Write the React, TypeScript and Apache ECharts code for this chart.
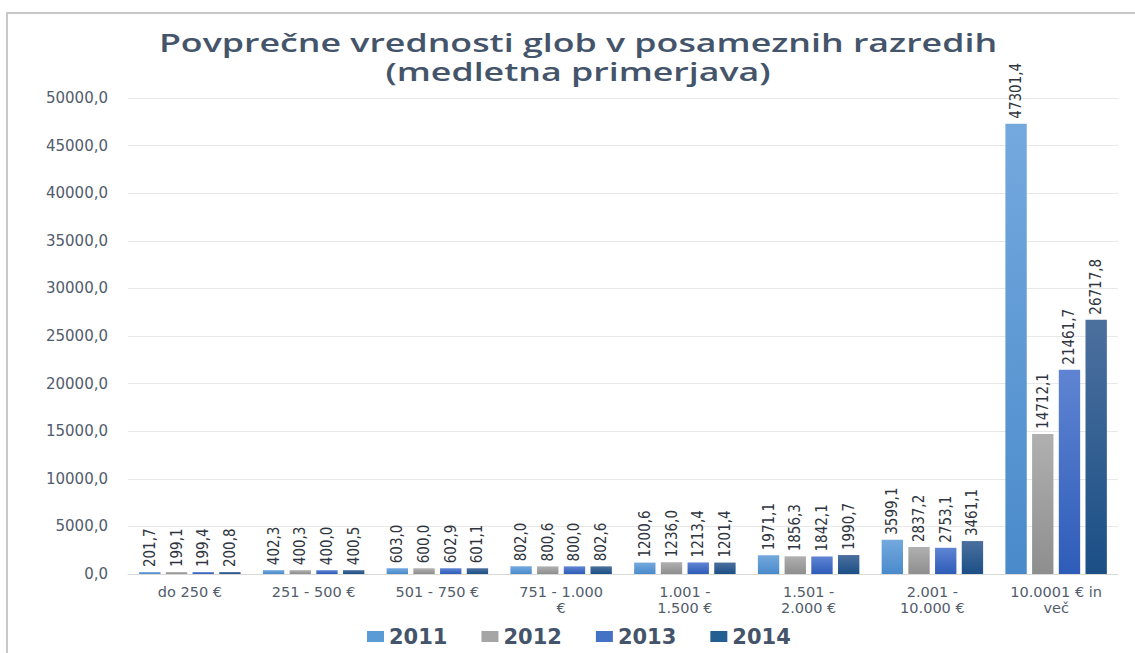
import React, { useEffect, useRef } from "react";
import * as echarts from "echarts";

const titleLines = [
  "Povprečne vrednosti glob v posameznih razredih",
  "(medletna primerjava)",
];
const categories = [
  "do 250 €",
  "251 - 500 €",
  "501 - 750 €",
  "751 - 1.000\n€",
  "1.001 -\n1.500 €",
  "1.501 -\n2.000 €",
  "2.001 -\n10.000 €",
  "10.0001 € in\nveč",
];
const years = ["2011", "2012", "2013", "2014"];
const v2011 = [201.7, 402.3, 603.0, 802.0, 1200.6, 1971.1, 3599.1, 47301.4];
const v2012 = [199.1, 400.3, 600.0, 800.6, 1236.0, 1856.3, 2837.2, 14712.1];
const v2013 = [199.4, 400.0, 602.9, 800.0, 1213.4, 1842.1, 2753.1, 21461.7];
const v2014 = [200.8, 400.5, 601.1, 802.6, 1201.4, 1990.7, 3461.1, 26717.8];
const yTicks = { min: 0, max: 50000, interval: 5000 };

const seriesValues = [v2011, v2012, v2013, v2014];
const gradients = [
  ["#74a9de", "#4a8acb"],
  ["#b0b0b0", "#8e8e8e"],
  ["#5f84d3", "#2e5cb8"],
  ["#4c709e", "#1b4f86"],
];
const legendColors = ["#5b9bd5", "#a5a5a5", "#4472c4", "#255e91"];

const fmt = (v: number) => v.toFixed(1).replace(".", ",");

export default function App() {
  const ref = useRef<HTMLDivElement>(null);
  useEffect(() => {
    if (!ref.current) return;
    const chart = echarts.init(ref.current, undefined, { renderer: "svg" });
    chart.setOption({
      animation: false,
      backgroundColor: "#ffffff",
      color: legendColors,
      graphic: [
        {
          type: "rect",
          shape: { x: 7, y: 13, width: 1140, height: 660 },
          style: { fill: "none", stroke: "#c8c8c8", lineWidth: 2 },
          silent: true,
        },
        ...titleLines.map((t, i) => ({
          type: "text",
          x: 578,
          y: 42 + i * 29,
          scaleX: 1.43,
          silent: true,
          style: {
            text: t,
            align: "center",
            verticalAlign: "middle",
            fontFamily: "'Open Sans', sans-serif",
            fontWeight: 600,
            fontSize: 25,
            fill: "#44546a",
          },
        })),
      ],
      legend: {
        bottom: 1,
        left: 362,
        itemWidth: 17,
        itemHeight: 11,
        itemGap: 34,
        icon: "rect",
        data: years.map((y, i) => ({ name: y, itemStyle: { color: legendColors[i] } })),
        textStyle: {
          fontFamily: "'DejaVu Sans', sans-serif",
          fontWeight: "bold",
          fontSize: 21,
          color: "#44546a",
        },
      },
      grid: { left: 128, right: 17, top: 98, bottom: 79 },
      xAxis: {
        type: "category",
        data: categories,
        axisLine: { lineStyle: { color: "#d9d9d9" } },
        axisTick: { show: false },
        axisLabel: {
          interval: 0,
          fontFamily: "'DejaVu Sans', sans-serif",
          fontSize: 14.5,
          color: "#525c6b",
          lineHeight: 16,
          margin: 10,
        },
      },
      yAxis: {
        type: "value",
        min: yTicks.min,
        max: yTicks.max,
        interval: yTicks.interval,
        axisLine: { show: false },
        axisTick: { show: false },
        splitLine: { lineStyle: { color: "#e8e8e8" } },
        axisLabel: {
          formatter: (v: number) => fmt(v),
          fontFamily: "'DejaVu Sans', sans-serif",
          fontSize: 15,
          color: "#525c6b",
          margin: 20,
        },
      },
      series: years.map((y, i) => ({
        name: y,
        type: "bar",
        data: seriesValues[i],
        barGap: "25%",
        barCategoryGap: "18%",
        itemStyle: {
          color: new echarts.graphic.LinearGradient(0, 0, 0, 1, [
            { offset: 0, color: gradients[i][0] },
            { offset: 1, color: gradients[i][1] },
          ]),
        },
        label: {
          show: true,
          position: "top",
          rotate: 90,
          align: "left",
          verticalAlign: "middle",
          distance: 5,
          formatter: (p: any) => fmt(p.value),
          fontFamily: "'Liberation Sans Narrow', 'DejaVu Sans Condensed', sans-serif",
          fontSize: 15,
          color: "#2f3540",
        },
      })),
    });
    return () => chart.dispose();
  }, []);
  return (
    <div
      ref={ref}
      style={{ position: "absolute", left: 0, top: 0, width: 1135, height: 653 }}
    />
  );
}
